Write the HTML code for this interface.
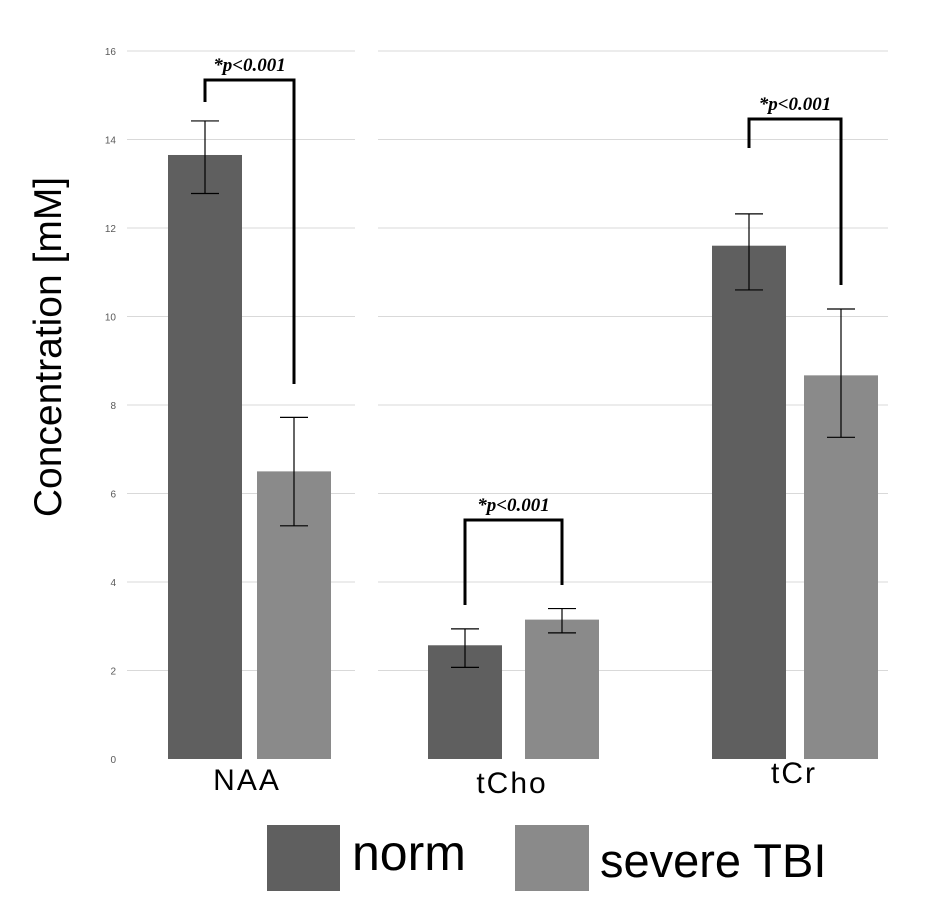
<!DOCTYPE html>
<html><head><meta charset="utf-8"><style>
body{margin:0;background:#fff;}
svg{display:block;font-family:"Liberation Sans",sans-serif;}
</style></head><body>
<svg id="c" width="943" height="914"></svg>
<script>
const categories=["NAA","tCho","tCr"];
const normVals=[13.65,2.57,11.6];
const tbiVals=[6.5,3.15,8.67];
const normLo=[12.78,2.07,10.6];
const normHi=[14.42,2.94,12.32];
const tbiLo=[5.27,2.85,7.27];
const tbiHi=[7.72,3.4,10.17];
const yTicks=[0,2,4,6,8,10,12,14,16];
const sigLabels=["*p<0.001","*p<0.001","*p<0.001"];

const NS="http://www.w3.org/2000/svg";
const svg=document.getElementById('c');
const y0=759,yTop=51,yMax=16;
const y=v=>y0-(y0-yTop)*v/yMax;
const normX=[168,428,712],tbiX=[257,525,804],bw=74;
const labelX=[247,512,794],labelY=[790,793,783];
function mk(t,a){const e=document.createElementNS(NS,t);for(const k in a)e.setAttribute(k,a[k]);svg.appendChild(e);return e;}
yTicks.forEach(t=>{
  if(t>0){
    const l1=mk('line',{x1:127,x2:355,y1:y(t),y2:y(t),stroke:'#d9d9d9','stroke-width':1});
    
    
    const l2=mk('line',{x1:378,x2:888,y1:y(t),y2:y(t),stroke:'#d9d9d9','stroke-width':1});
    
    
  }
  const tx=mk('text',{x:116,y:y(t)+4,'text-anchor':'end','font-size':10,fill:'#595959'});
  tx.textContent=t;
  
  
});
function errbar(x,lo,hi,name){
  const g=mk('path',{d:`M${x-14},${y(hi)}H${x+14}M${x},${y(hi)}V${y(lo)}M${x-14},${y(lo)}H${x+14}`,stroke:'#000','stroke-width':1.2,fill:'none'});
  
  
}
categories.forEach((c,i)=>{
  const b1=mk('rect',{x:normX[i],y:y(normVals[i]),width:bw,height:y0-y(normVals[i]),fill:'#5f5f5f'});
  
  
  const b2=mk('rect',{x:tbiX[i],y:y(tbiVals[i]),width:bw,height:y0-y(tbiVals[i]),fill:'#8a8a8a'});
  
  
  errbar(normX[i]+bw/2,normLo[i],normHi[i],'errorbar-norm-'+c);
  errbar(tbiX[i]+bw/2,tbiLo[i],tbiHi[i],'errorbar-tbi-'+c);
  const lt=mk('text',{x:labelX[i],y:labelY[i],'text-anchor':'middle','font-size':30,'letter-spacing':2,fill:'#000'});
  lt.textContent=c;
  
  
  const lx=normX[i]+bw/2, rx=tbiX[i]+bw/2;
  const by=[80,520,119][i], ly=[102,605,148][i], ry=[384,585,285][i];
  const br=mk('path',{d:`M${lx},${ly}V${by}H${rx}V${ry}`,stroke:'#000','stroke-width':3,fill:'none'});
  
  
  const st=mk('text',{x:(lx+rx)/2,y:by-9,'text-anchor':'middle','font-size':19,'font-weight':'bold','font-style':'italic','font-family':'Liberation Serif, serif'});
  st.textContent=sigLabels[i];
  
  
});
const yt=mk('text',{x:0,y:0,transform:'translate(61,347) rotate(-90)','text-anchor':'middle','font-size':39,fill:'#000'});
yt.textContent='Concentration [mM]';


const lr1=mk('rect',{x:267,y:825,width:73,height:66,fill:'#5f5f5f'});


const lt1=mk('text',{x:352,y:870,'font-size':50,fill:'#000'});
lt1.textContent='norm';


const lr2=mk('rect',{x:515,y:825,width:74,height:66,fill:'#8a8a8a'});


const lt2=mk('text',{x:600,y:877,'font-size':47,fill:'#000'});
lt2.textContent='severe TBI';


</script>
</body></html>
